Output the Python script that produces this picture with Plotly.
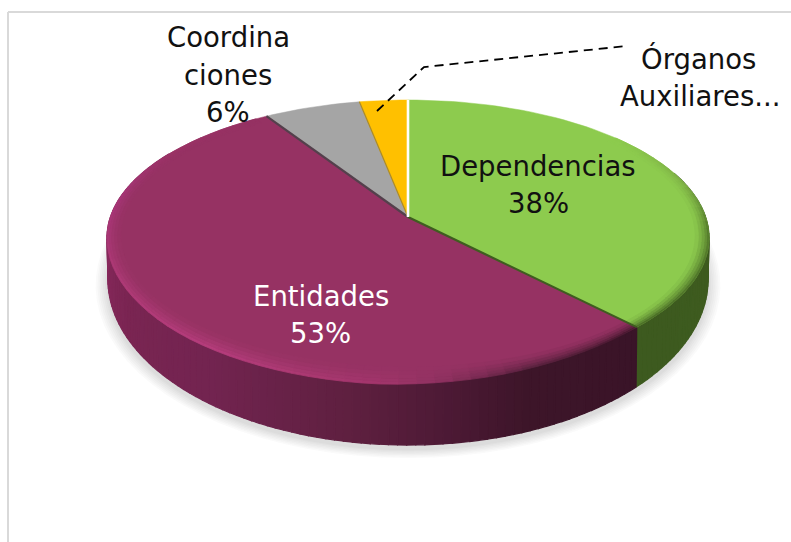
import math
import plotly.graph_objects as go

# ---- data ----
categories = ["Dependencias", "Entidades", "Coordinaciones", "Órganos Auxiliares"]
values = [38, 53, 6, 3]
face_colors = ["#8dcb4e", "#963263", "#a5a5a5", "#ffc000"]

FONT = "'DejaVu Sans', sans-serif"
FS = 27.5

# ---- projection of the tilted disc (3D pie look) ----
CX = 408
R = 297.6
C = 0.15
TOP_A, TOP_B = -102.0, 217.0
BOT_A, BOT_B = -123.8, 254.5
RB = 296.7


def project(theta, r, a, b, rad):
    t = math.radians(theta)
    u, v = r * math.sin(t), r * math.cos(t)
    d = 1 + C * v
    return CX + rad * u / d, (a * v + b) / d


def top(theta, r=1.0):
    return project(theta, r, TOP_A, TOP_B, R)


def bottom(theta, r=1.0):
    return project(theta, r, BOT_A, BOT_B, RB)


def arange(a, b, step):
    n = max(1, int(math.ceil((b - a) / step)))
    return [a + (b - a) * i / n for i in range(n + 1)]


def h2rgb(h):
    return tuple(int(h[i:i + 2], 16) for i in (1, 3, 5))


def mix(c1, c2, t):
    a, b = h2rgb(c1), h2rgb(c2)
    return "#%02x%02x%02x" % tuple(round(a[i] + (b[i] - a[i]) * t) for i in range(3))


def ramp(stops, x):
    if x <= stops[0][0]:
        return stops[0][1]
    for (x0, c0), (x1, c1) in zip(stops, stops[1:]):
        if x <= x1:
            return mix(c0, c1, (x - x0) / (x1 - x0))
    return stops[-1][1]


def lerp_ramp(stops, x):
    if x <= stops[0][0]:
        return stops[0][1]
    for (x0, c0), (x1, c1) in zip(stops, stops[1:]):
        if x <= x1:
            return c0 + (c1 - c0) * (x - x0) / (x1 - x0)
    return stops[-1][1]


fig = go.Figure()


def poly(pts, fill, line=None, width=1.2):
    xs = [p[0] for p in pts] + [pts[0][0]]
    ys = [p[1] for p in pts] + [pts[0][1]]
    fig.add_trace(go.Scatter(
        x=xs, y=ys, mode="lines", fill="toself", fillcolor=fill,
        line=dict(color=line or fill, width=width),
        hoverinfo="skip", showlegend=False))


def seg(pts, color, width, dash=None):
    fig.add_trace(go.Scatter(
        x=[p[0] for p in pts], y=[p[1] for p in pts], mode="lines",
        line=dict(color=color, width=width, dash=dash),
        hoverinfo="skip", showlegend=False))


# slice angle boundaries, clockwise from the top
total = sum(values)
bounds = [0.0]
for val in values:
    bounds.append(bounds[-1] + val / total * 360)

# soft shadow
for k in [0.040, 0.034, 0.028, 0.022, 0.016, 0.010, 0.005]:
    pts = [bottom(a, 1 + k) for a in arange(0, 360, 4)]
    pts = [(x, y + 4) for x, y in pts]
    poly(pts, "rgba(60,60,60,0.026)", line="rgba(0,0,0,0)", width=0)

# side wall
wall_ramps = {
    0: [(60, "#3f5d20"), (136, "#3d5a1f")],
    1: [(137, "#3a1428"), (160, "#3d1529"), (175, "#4e1a36"), (190, "#5f2040"),
        (215, "#722450"), (240, "#7a2552"), (270, "#8a2a5e"), (300, "#8a2a5e")],
}
for idx, (lo, hi) in {0: (70, bounds[1]), 1: (bounds[1], 300)}.items():
    angs = arange(lo, hi, 1.5)
    for a0, a1 in zip(angs, angs[1:]):
        col = ramp(wall_ramps[idx], (a0 + a1) / 2)
        poly([top(a0), top(a1), bottom(a1), bottom(a0)], col)

# top faces
for i, col in enumerate(face_colors):
    angs = arange(bounds[i], bounds[i + 1], 2)
    poly([top(0, 0)] + [top(a) for a in angs], col, width=0.5)

# bevelled rim, which rolls a little down over the near side of the wall
rim_ramps = {
    0: [(50, face_colors[0]), (75, "#7aa843"), (95, "#4c7027"), (137, "#3f5d20")],
    1: [(137, "#3c1528"), (160, "#52203a"), (175, "#8e3160"), (185, "#a5366d"),
        (215, "#bb3f80"), (250, "#b03a78"), (280, "#a8357a"), (300, "#9c3368"),
        (325, face_colors[1])],
}
rim_extension = [(137, 0.0), (165, 0.035), (185, 0.05), (225, 0.05), (265, 0.03), (285, 0.0)]
ring_steps = [0.0, 0.16, 0.34, 0.55, 0.77, 1.0]


def rim_pt(a, f, idx):
    outer = 1 + (lerp_ramp(rim_extension, a) if idx == 1 else 0)
    x = top(a, 1 + (0.955 - 1) * f)[0]
    y = top(a, outer + (0.955 - outer) * f)[1]
    return x, y


for idx, (lo, hi) in {0: (50, bounds[1]), 1: (bounds[1], 325)}.items():
    angs = arange(lo, hi, 3)
    for a0, a1 in zip(angs, angs[1:]):
        rim = ramp(rim_ramps[idx], (a0 + a1) / 2)
        for j in range(len(ring_steps) - 1):
            t = (j + 0.5) / (len(ring_steps) - 1)
            col = mix(rim, face_colors[idx], t ** 0.8)
            f0, f1 = ring_steps[j], ring_steps[j + 1]
            poly([rim_pt(a0, f0, idx), rim_pt(a1, f0, idx), rim_pt(a1, f1, idx), rim_pt(a0, f1, idx)],
                 col, width=0.8)

# slice separators
seg([top(0, 0), top(bounds[1])], "#3f5d20", 2.2)
seg([top(0, 0), top(bounds[2])], "#54404c", 2.2)
seg([top(0, 0), top(bounds[3])], "#a98a2c", 1.2)
seg([top(0, 0), top(bounds[0])], "#ffffff", 2.6)

# leader line of the small slice
leader_x = [377, 424, 627]
leader_y = [111, 67, 46]
fig.add_trace(go.Scatter(x=leader_x, y=leader_y, mode="lines",
                         line=dict(color="#000000", width=1.8, dash="9px,6px"),
                         hoverinfo="skip", showlegend=False))

# labels, one text per line
label_lines = [
    ("Coordina", 228, 37, "#111111"),
    ("ciones", 228, 75, "#111111"),
    (f"{values[2]}%", 228, 112, "#111111"),
    ("Órganos", 698, 58, "#111111"),
    ("Auxiliares...", 700, 96, "#111111"),
    (categories[0], 538, 166, "#111111"),
    (f"{values[0]}%", 538, 203, "#111111"),
    (categories[1], 321, 296, "#ffffff"),
    (f"{values[1]}%", 320, 333, "#ffffff"),
]
for txt, x, y, col in label_lines:
    fig.add_annotation(x=x, y=y, text=txt, showarrow=False, xanchor="center", yanchor="middle",
                       font=dict(family=FONT, size=FS, color=col))

# chart frame
fig.add_shape(type="line", x0=8, x1=8, y0=12, y1=542, line=dict(color="#d9d9d9", width=2))
fig.add_shape(type="line", x0=8, x1=791, y0=12, y1=12, line=dict(color="#d9d9d9", width=2))

fig.update_layout(
    width=791, height=542, margin=dict(l=0, r=0, t=0, b=0),
    paper_bgcolor="#ffffff", plot_bgcolor="#ffffff", showlegend=False,
    xaxis=dict(range=[0, 791], visible=False, fixedrange=True),
    yaxis=dict(range=[542, 0], visible=False, fixedrange=True),
)
fig.write_html("out.html", config={"displayModeBar": False},
               post_script="document.body.style.margin='0';document.documentElement.style.overflow='hidden';")
